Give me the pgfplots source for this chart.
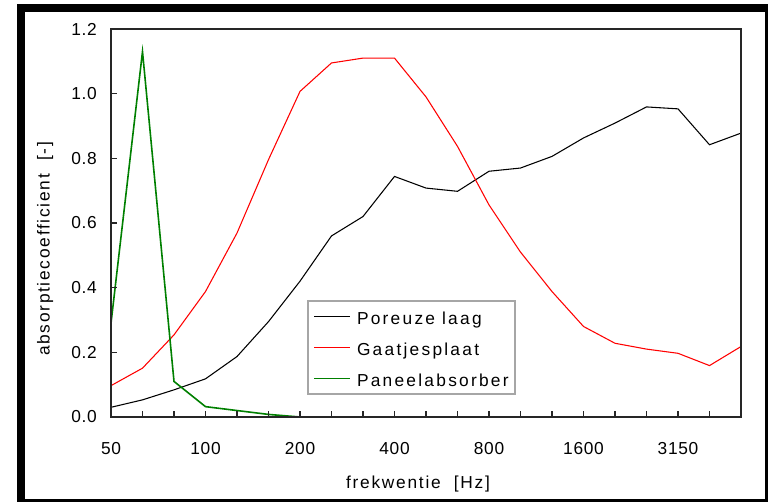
\documentclass[border=0pt]{standalone}
\usepackage{fontspec}
\setmainfont{Liberation Sans}
\newfontfamily\tickfont{Liberation Sans}[LetterSpace=4]
\newfontfamily\labfont{Liberation Sans}[LetterSpace=10]
\newfontfamily\legfont{Liberation Sans}[LetterSpace=13]
\usepackage{pgfplots}
\usepackage{pgfplotstable}
\pgfplotsset{compat=1.18}
\definecolor{pgreen}{RGB}{0,128,0}
\pgfplotstableread{
idx freq poreus gaatjes
0  50   0.030 0.097
1  63   0.053 0.151
2  80   0.084 0.254
3  100  0.118 0.388
4  125  0.187 0.569
5  160  0.295 0.796
6  200  0.420 1.007
7  250  0.560 1.095
8  315  0.620 1.110
9  400  0.744 1.110
10 500  0.708 0.990
11 630  0.698 0.837
12 800  0.760 0.656
13 1000 0.770 0.510
14 1250 0.806 0.388
15 1600 0.863 0.280
16 2000 0.909 0.228
17 2500 0.959 0.210
18 3150 0.953 0.197
19 4000 0.842 0.159
20 5000 0.878 0.218
}\mytable
\pgfplotstableread{
idx freq paneel
0 50  0.290
1 63  1.130
2 80  0.110
3 100 0.032
4 125 0.020
5 160 0.008
6 200 0.000
}\paneltable
\begin{document}
\begin{tikzpicture}
\useasboundingbox (0pt,0pt) rectangle (579.75pt,377.25pt);
\fill[white] (0pt,0pt) rectangle (579.75pt,377.25pt);
\fill[black] (12.75pt,0.75pt) rectangle (576pt,374.25pt);
\fill[white] (18.75pt,3pt) rectangle (573.75pt,368.25pt);
\begin{axis}[
  at={(83.25pt,64.5pt)}, anchor=south west,
  width=472.5pt, height=291pt, scale only axis,
  xmin=0, xmax=20, ymin=0, ymax=1.2,
  xtick={0,...,20},
  xticklabels={50,,,100,,,200,,,400,,,800,,,1600,,,3150,,},
  ytick={0,0.2,0.4,0.6,0.8,1.0,1.2},
  /pgf/number format/assume math mode=true,
  /pgf/number format/fixed,
  /pgf/number format/fixed zerofill,
  /pgf/number format/precision=1,
  ticklabel style={font=\tickfont\fontsize{13}{15}\selectfont},
  yticklabel style={anchor=east, inner sep=0pt, xshift=-10.5pt},
  xticklabel style={anchor=base, inner sep=0pt, yshift=-27.75pt},
  tick pos=left,
  tick align=inside,
  major tick length=4.5pt,
  tick style={line width=1pt, black!85},
  axis line style={line width=1.4pt, black!85},
  axis on top=true,
  xlabel={frekwentie\ \ [Hz]},
  ylabel={absorptiecoefficient\ \ [-]},
  label style={font=\labfont\fontsize{13}{15}\selectfont},
  xlabel style={at={([xshift=-6pt,yshift=-53.25pt]axis description cs:0.5,0)}, anchor=base},
  ylabel style={at={([xshift=-46.1pt]axis description cs:0,0.433)}, anchor=base},
  legend style={at={(axis description cs:0.311,0.3015)}, anchor=north west,
    draw=black!35, line width=1.5pt, inner xsep=4.5pt, inner ysep=2.25pt,
    row sep=4.5pt, column sep=4.5pt,
    nodes={inner sep=0pt, text height=15pt, text depth=3.75pt},
    font=\legfont\fontsize{13}{15}\selectfont},
  legend cell align=left,
  legend image code/.code={\draw[line width=0.8pt,#1] (0pt,0pt) -- (27pt,0pt);},
  no marks,
]
\addplot[black, line width=0.8pt] table[x=idx, y=poreus] {\mytable};
\addlegendentry{Poreuze laag}
\addplot[red, line width=0.8pt] table[x=idx, y=gaatjes] {\mytable};
\addlegendentry{Gaatjesplaat}
\addplot[pgreen, line width=1.2pt] table[x=idx, y=paneel] {\paneltable};
\addlegendentry{Paneelabsorber}
\end{axis}
\end{tikzpicture}
\end{document}
